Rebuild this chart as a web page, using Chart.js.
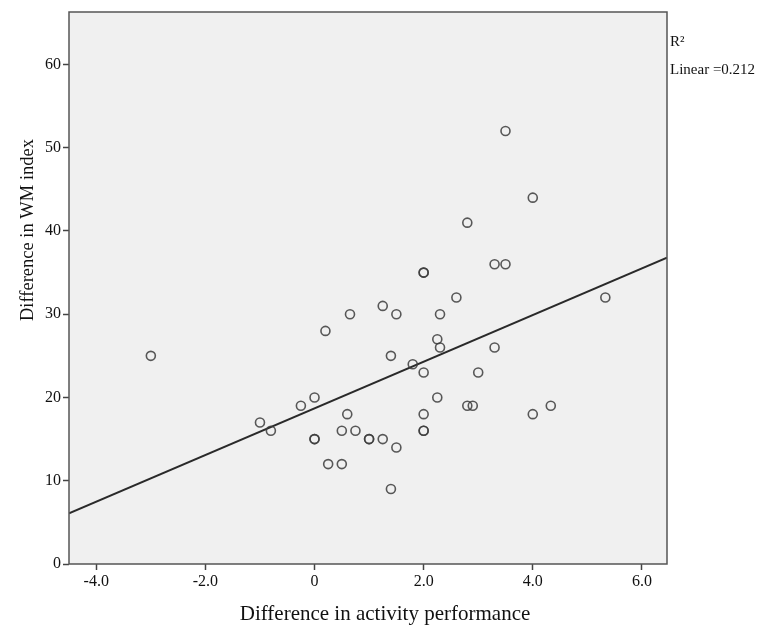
<!DOCTYPE html>
<html>
<head>
<meta charset="utf-8">
<script src="https://cdn.jsdelivr.net/npm/chart.js@4/dist/chart.umd.min.js"></script>
<style>
  body { margin: 0; background: #fff; }
</style>
</head>
<body>
<canvas id="myChart" width="761" height="628"></canvas>
<script>
// values (duplicates drawn twice look darker)
const activityDiff = [-3.0, -1.0, -0.8, -0.25, 0, 0, 0, 0.2, 0.25, 0.5, 0.5, 0.6, 0.65, 0.75, 1.0, 1.0,
  1.25, 1.25, 1.4, 1.4, 1.5, 1.5, 1.8, 2.0, 2.0, 2.0, 2.0, 2.0, 2.0, 2.25, 2.3, 2.3, 2.25, 2.6,
  2.8, 2.8, 2.9, 3.0, 3.3, 3.3, 3.5, 3.5, 4.0, 4.0, 4.33, 5.33];
const wmDiff = [25, 17, 16, 19, 20, 15, 15, 28, 12, 12, 16, 18, 30, 16, 15, 15,
  15, 31, 25, 9, 30, 14, 24, 35, 35, 23, 18, 16, 16, 27, 26, 30, 20, 32,
  41, 19, 19, 23, 26, 36, 36, 52, 44, 18, 19, 32];

// fit line end points as drawn
const fitX = [-4.5, 6.46];
const fitY = [6.1, 36.8];

const xTicks = [-4, -2, 0, 2, 4, 6];
const yTicks = [0, 10, 20, 30, 40, 50, 60];
const xTitle = "Difference in activity performance";
const yTitle = "Difference in WM index";
const rSquaredLines = ["R\u00b2", "Linear =0.212"];

const ctx = document.getElementById("myChart");

//Background, frame and labels of the plot
const plotFrame = {
  id: "plotFrame",
  beforeDraw(chart) {
    const a = chart.chartArea;
    const c = chart.ctx;
    c.save();
    c.fillStyle = "#f0f0f0";
    c.fillRect(a.left, a.top, a.right - a.left, a.bottom - a.top);
    c.restore();
  },
  afterDraw(chart) {
    const a = chart.chartArea;
    const c = chart.ctx;
    c.save();
    c.strokeStyle = "#555";
    c.lineWidth = 1.5;
    c.strokeRect(a.left, a.top, a.right - a.left, a.bottom - a.top);
    c.fillStyle = "#111";
    //R2 note right of the plot
    c.font = "15px 'Liberation Serif'";
    c.textBaseline = "middle";
    c.textAlign = "left";
    c.fillText(rSquaredLines[0], a.right + 3, 42);
    c.fillText(rSquaredLines[1], a.right + 3, 70);
    //axis titles
    c.textAlign = "center";
    c.font = "21px 'Liberation Serif'";
    c.fillText(xTitle, 385, 614);
    c.translate(28, 230);
    c.rotate(-Math.PI / 2);
    c.font = "18.5px 'Liberation Serif'";
    c.fillText(yTitle, 0, 0);
    c.restore();
  },
};

new Chart(ctx, {
  type: "scatter",
  data: {
    datasets: [
      {
        label: "points",
        data: activityDiff.map((x, i) => ({ x: x, y: wmDiff[i] })),
        pointRadius: 4.5,
        pointBorderWidth: 1.6,
        pointBorderColor: "rgba(60,60,60,0.85)",
        pointBackgroundColor: "rgba(0,0,0,0)",
        order: 1,
      },
      {
        type: "line",
        label: "fit",
        data: fitX.map((x, i) => ({ x: x, y: fitY[i] })),
        borderColor: "#2a2a2a",
        borderWidth: 2,
        pointRadius: 0,
        fill: false,
        order: 2,
      },
    ],
  },
  options: {
    responsive: false,
    animation: false,
    layout: { padding: { top: 12, right: 94, left: 0, bottom: 0 } },
    plugins: {
      legend: { display: false },
      tooltip: { enabled: false },
    },
    scales: {
      x: {
        type: "linear",
        min: -4.5,
        max: 6.46,
        afterBuildTicks: (axis) => {
          axis.ticks = xTicks.map((v) => ({ value: v }));
        },
        afterFit: (axis) => {
          axis.height = 64;
        },
        grid: {
          drawOnChartArea: false,
          drawTicks: true,
          tickLength: 6,
          tickColor: "#444",
          tickWidth: 1.5,
        },
        border: { display: false },
        ticks: {
          color: "#111",
          font: { family: "'Liberation Serif'", size: 16 },
          padding: 2,
          maxRotation: 0,
          callback: (value) => (value === 0 ? "0" : value.toFixed(1)),
        },
      },
      y: {
        type: "linear",
        min: 0,
        max: 66.3,
        afterBuildTicks: (axis) => {
          axis.ticks = yTicks.map((v) => ({ value: v }));
        },
        afterFit: (axis) => {
          axis.width = 69;
        },
        grid: {
          drawOnChartArea: false,
          drawTicks: true,
          tickLength: 6,
          tickColor: "#444",
          tickWidth: 1.5,
        },
        border: { display: false },
        ticks: {
          color: "#111",
          font: { family: "'Liberation Serif'", size: 16 },
          padding: 2,
        },
      },
    },
  },
  plugins: [plotFrame],
});
</script>
</body>
</html>
